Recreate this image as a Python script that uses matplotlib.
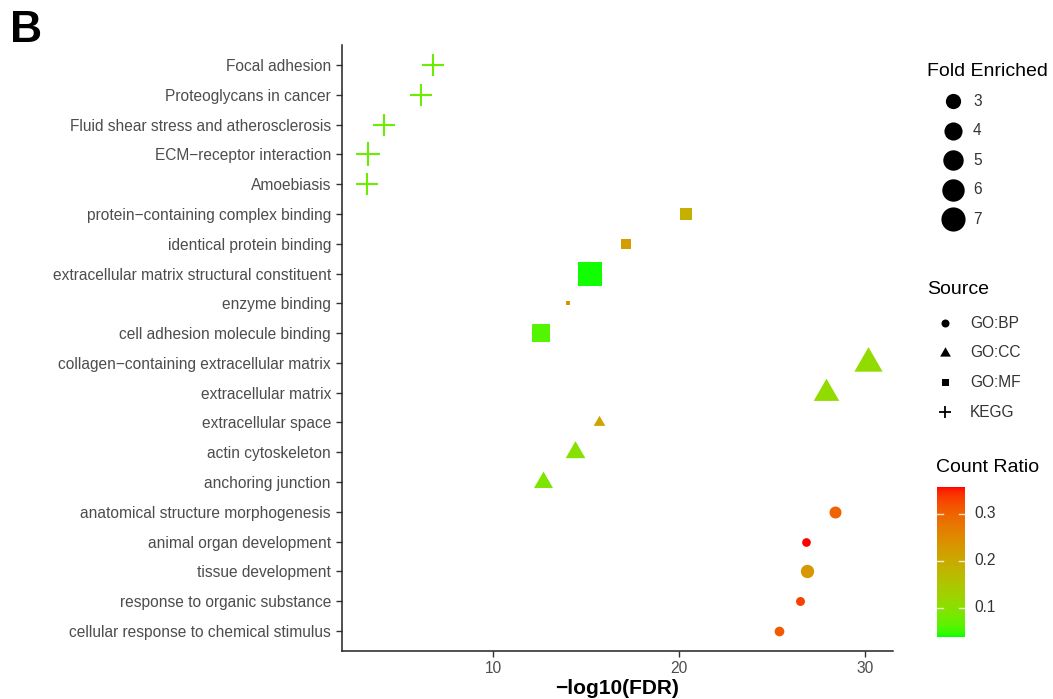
import numpy as np
import matplotlib
matplotlib.use("Agg")
import matplotlib.pyplot as plt
from matplotlib.colors import ListedColormap, Normalize
from matplotlib.path import Path

plt.rcParams['font.family'] = ['Liberation Sans', 'DejaVu Sans']

# ---------------- data ----------------
terms = [
    "Focal adhesion", "Proteoglycans in cancer", "Fluid shear stress and atherosclerosis",
    "ECM\u2212receptor interaction", "Amoebiasis",
    "protein\u2212containing complex binding", "identical protein binding",
    "extracellular matrix structural constituent", "enzyme binding",
    "cell adhesion molecule binding",
    "collagen\u2212containing extracellular matrix", "extracellular matrix",
    "extracellular space", "actin cytoskeleton", "anchoring junction",
    "anatomical structure morphogenesis", "animal organ development",
    "tissue development", "response to organic substance",
    "cellular response to chemical stimulus",
]
sources = ["KEGG"] * 5 + ["GO:MF"] * 5 + ["GO:CC"] * 5 + ["GO:BP"] * 5
neglog10_fdr = [6.76, 6.13, 4.14, 3.28, 3.21,
                20.36, 17.13, 15.20, 14.00, 12.58,
                30.16, 27.90, 15.70, 14.40, 12.70,
                28.40, 26.80, 26.90, 26.50, 25.40]
fold_enriched = [3.58, 3.27, 3.33, 3.92, 3.58,
                 2.33, 1.90, 7.08, 1.60, 4.49,
                 5.79, 4.80, 1.82, 3.11, 2.95,
                 2.40, 1.82, 2.73, 1.86, 1.96]
count_ratio = [0.075, 0.075, 0.075, 0.075, 0.075,
               0.19, 0.22, 0.04, 0.23, 0.06,
               0.11, 0.11, 0.21, 0.10, 0.09,
               0.30, 0.357, 0.23, 0.33, 0.31]
source_levels = ["GO:BP", "GO:CC", "GO:MF", "KEGG"]
size_breaks = [3, 4, 5, 6, 7]
ratio_ticks = [0.1, 0.2, 0.3]
x_ticks = [10, 20, 30]

# ---------------- colour scale (Lab interpolation green -> red) ----------------
def _srgb_to_lin(c):
    c = np.asarray(c, float)
    return np.where(c <= 0.04045, c / 12.92, ((c + 0.055) / 1.055) ** 2.4)

def _lin_to_srgb(c):
    c = np.clip(c, 0, 1)
    return np.where(c <= 0.0031308, 12.92 * c, 1.055 * c ** (1 / 2.4) - 0.055)

_M = np.array([[0.4124, 0.3576, 0.1805], [0.2126, 0.7152, 0.0722], [0.0193, 0.1192, 0.9505]])
_Mi = np.linalg.inv(_M)
_wp = np.array([0.95047, 1.0, 1.08883])

def rgb2lab(rgb):
    xyz = _M @ _srgb_to_lin(rgb) / _wp
    d = 6 / 29
    f = np.where(xyz > d ** 3, np.cbrt(xyz), xyz / (3 * d * d) + 4 / 29)
    return np.array([116 * f[1] - 16, 500 * (f[0] - f[1]), 200 * (f[1] - f[2])])

def lab2rgb(lab):
    L, a, b = lab
    fy = (L + 16) / 116
    fx = fy + a / 500
    fz = fy - b / 200
    d = 6 / 29
    def finv(t):
        return np.where(t > d, t ** 3, 3 * d * d * (t - 4 / 29))
    xyz = np.array([finv(fx), finv(fy), finv(fz)]) * _wp
    return _lin_to_srgb(_Mi @ xyz)

lab_lo = rgb2lab([0, 1, 0])
lab_hi = rgb2lab([1, 0, 0])
cols = [lab2rgb(lab_lo + (lab_hi - lab_lo) * t) for t in np.linspace(0, 1, 256)]
cmap = ListedColormap(np.array(cols))
cmin, cmax = 0.038, 0.357
norm = Normalize(cmin, cmax)

# ---------------- size scale ----------------
def diam_px(f):
    return 5 + 7.82 * np.sqrt(np.maximum(np.asarray(f, float) - 1.6, 0))

PT = 0.72  # points per pixel at dpi=100

tri = Path([(0, 1), (-np.sqrt(3) / 2, -0.5), (np.sqrt(3) / 2, -0.5), (0, 1)],
           [Path.MOVETO, Path.LINETO, Path.LINETO, Path.CLOSEPOLY])

def marker_spec(src, d):
    dp = d * PT
    if src == "GO:BP":
        return "o", dp ** 2
    if src == "GO:CC":
        return tri, (1.555 * dp) ** 2
    if src == "GO:MF":
        return "s", dp ** 2
    return "+", (1.414 * dp) ** 2

# ---------------- figure ----------------
W, H = 1053, 699
fig = plt.figure(figsize=(W / 100, H / 100), dpi=100)
ax = fig.add_axes([342 / W, 1 - 651 / H, (893 - 342) / W, (651 - 45) / H])

ypos = np.arange(len(terms))
for i in range(len(terms)):
    m, s = marker_spec(sources[i], diam_px(fold_enriched[i]))
    c = cmap(norm(count_ratio[i]))
    if m == "+":
        ax.scatter([neglog10_fdr[i]], [ypos[i]], marker=m, s=s, color=c, linewidths=1.5, zorder=3)
    else:
        ax.scatter([neglog10_fdr[i]], [ypos[i]], marker=m, s=s, color=c, linewidths=0, zorder=3)

ax.set_ylim(len(terms) - 1 + 0.67, -0.67)
xmin, xmax = min(neglog10_fdr), max(neglog10_fdr)
span = xmax - xmin
ax.set_xlim(xmin - 0.05 * span, xmax + 0.05 * span)
ax.set_yticks(ypos)
ax.set_yticklabels(terms)
ax.set_xticks(x_ticks)
ax.tick_params(axis='both', colors='#333333', labelcolor='#4D4D4D', labelsize=11.2,
               length=4, width=1)
ax.tick_params(axis='x', pad=3)
ax.tick_params(axis='y', pad=4)
for sp in ["top", "right"]:
    ax.spines[sp].set_visible(False)
for sp in ["left", "bottom"]:
    ax.spines[sp].set_color('#222222')
    ax.spines[sp].set_linewidth(1.1)
ax.set_xlabel("\u2212log10(FDR)", fontsize=15, fontweight='bold', labelpad=2)

fig.text(10 / W, 1 - 30 / H, "B", fontsize=32, fontweight='bold', va='center', ha='left')

# ---------------- legends (overlay in pixel coordinates) ----------------
lg = fig.add_axes([0, 0, 1, 1], facecolor='none')
lg.set_xlim(0, W)
lg.set_ylim(H, 0)
lg.axis('off')

# Fold Enriched
lg.text(927, 72, "Fold Enriched", fontsize=14, va='center', ha='left', color='black')
for k, b in enumerate(size_breaks):
    yy = 101 + k * 29.6
    dp = (diam_px(b) + 1) * PT
    lg.scatter([953], [yy], marker='o', s=dp ** 2, color='black', linewidths=0)
    lg.text(973, yy, str(b), fontsize=11.2, va='center', ha='left', color='#333333')

# Source
lg.text(927, 290, "Source", fontsize=14, va='center', ha='left', color='black')
src_markers = {"GO:BP": ("o", (8 * PT) ** 2), "GO:CC": (tri, (1.555 * 8 * PT) ** 2),
               "GO:MF": ("s", (7.0 * PT) ** 2), "KEGG": ("+", (1.414 * 9 * PT) ** 2)}
for k, sname in enumerate(source_levels):
    yy = 323 + k * 29.7
    m, s = src_markers[sname]
    lg.scatter([945], [yy], marker=m, s=s, color='black', linewidths=1.3 if m == "+" else 0)
    lg.text(970, yy, sname, fontsize=11.2, va='center', ha='left', color='#333333')

# Count Ratio colour bar
lg.text(936, 467, "Count Ratio", fontsize=14, va='center', ha='left', color='black')
cb_top, cb_bot, cb_l, cb_r = 487, 637, 937, 965
cax = fig.add_axes([cb_l / W, 1 - cb_bot / H, (cb_r - cb_l) / W, (cb_bot - cb_top) / H])
grad = np.linspace(cmin, cmax, 256).reshape(-1, 1)
cax.imshow(grad, aspect='auto', cmap=cmap, norm=norm, origin='lower',
           extent=[0, 1, cmin, cmax])
cax.set_xlim(0, 1)
cax.set_ylim(cmin, cmax)
cax.set_xticks([])
cax.set_yticks([])
for sp in cax.spines.values():
    sp.set_visible(False)
for t in ratio_ticks:
    cax.plot([0, 0.2], [t, t], color='white', lw=1, alpha=0.8)
    cax.plot([0.8, 1], [t, t], color='white', lw=1, alpha=0.8)
    cax.text(1.35, t, f"{t:.1f}", transform=cax.get_yaxis_transform(), fontsize=11.2,
             va='center', ha='left', color='#333333')

fig.savefig("out.png", dpi=100, facecolor='white')
